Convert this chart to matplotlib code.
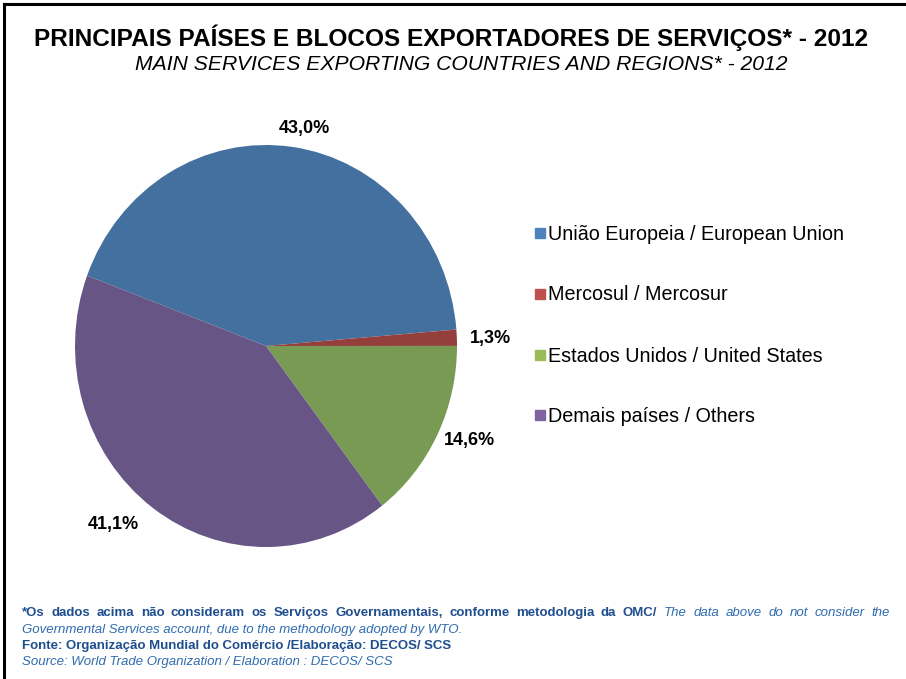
import matplotlib.pyplot as plt
from matplotlib.lines import Line2D
from matplotlib.patches import Rectangle

W, H = 906, 679

labels = ['União Europeia / European Union', 'Mercosul / Mercosur',
          'Estados Unidos / United States', 'Demais países / Others']
values = [43.0, 1.3, 14.6, 41.1]
pct_text = ['43,0%', '1,3%', '14,6%', '41,1%']
pie_colors = ['#44709F', '#953F3D', '#799A52', '#675586']
legend_colors = ['#4F81BD', '#C0504D', '#9BBB59', '#8064A2']

sans = 'Liberation Sans'


def px(x, y):
    # pixel coords from top-left -> figure fraction
    return x / W, 1 - y / H


fig = plt.figure(figsize=(W / 100, H / 100), dpi=100)

# frame lines (top and left only)
fig.add_artist(Line2D([4 / W, 1], [1 - 4 / H, 1 - 4 / H], color='black', lw=2.2))
fig.add_artist(Line2D([4 / W, 4 / W], [0, 1 - 4 / H], color='black', lw=2.2))

# titles
fig.text(*px(451, 38), 'PRINCIPAIS PAÍSES E BLOCOS EXPORTADORES DE SERVIÇOS* - 2012',
         ha='center', va='center', fontsize=17.6, fontweight='bold', family=sans)
fig.text(*px(461, 65), 'MAIN SERVICES EXPORTING COUNTRIES AND REGIONS* - 2012',
         ha='center', va='center', fontsize=15.2, fontstyle='italic', family=sans)

# pie (slightly taller than wide, as in the original)
cx, cy, rx, ry = 266, 346, 191, 201
ax = fig.add_axes([(cx - rx) / W, 1 - (cy + ry) / H, 2 * rx / W, 2 * ry / H])
ax.pie(values, colors=pie_colors, startangle=159.5, counterclock=False,
       wedgeprops=dict(linewidth=0))
ax.set_aspect('auto')
ax.set_xlim(-1, 1)
ax.set_ylim(-1, 1)
ax.axis('off')

label_pos = [(304, 128), (490, 339), (469, 441), (113, 524)]
for (x, y), t in zip(label_pos, pct_text):
    fig.text(*px(x, y), t, ha='center', va='center', fontsize=13,
             fontweight='bold', family=sans)

# legend
leg_y = [234, 295, 356, 416]
for yy, lab, col in zip(leg_y, labels, legend_colors):
    fig.add_artist(Rectangle(px(535, yy + 4), 10 / W, 10 / H, color=col,
                             transform=fig.transFigure))
    fig.text(*px(548, yy), lab, ha='left', va='center', fontsize=14.2, family=sans)

# footnotes
dark = '#1F4E8F'
light = '#2F6CB0'
fs = 9.5

# first line is justified between x=22 and x=890
line1 = [(w, 'bold', 'normal', dark) for w in
         '*Os dados acima não consideram os Serviços Governamentais, conforme metodologia da OMC/'.split()]
line1 += [(w, 'normal', 'italic', light) for w in 'The data above do not consider the'.split()]
texts = [fig.text(0, 1 - 613 / H, w, ha='left', va='center', fontsize=fs, fontweight=fw,
                  fontstyle=st, color=c, family=sans) for w, fw, st, c in line1]
r = fig.canvas.get_renderer()
widths = [t.get_window_extent(r).width for t in texts]
gap = (890 - 22 - sum(widths)) / (len(texts) - 1)
x = 22
for t, wd in zip(texts, widths):
    t.set_x(x / W)
    x += wd + gap

fig.text(*px(22, 630), 'Governmental Services account, due to the methodology adopted by WTO.',
         ha='left', va='center', fontsize=fs, fontstyle='italic', color=light, family=sans)
fig.text(*px(22, 646), 'Fonte: Organização Mundial do Comércio /Elaboração: DECOS/ SCS',
         ha='left', va='center', fontsize=fs, fontweight='bold', color=dark, family=sans)
fig.text(*px(22, 662), 'Source: World Trade Organization / Elaboration : DECOS/ SCS',
         ha='left', va='center', fontsize=fs, fontstyle='italic', color=light, family=sans)

fig.savefig('out.png', dpi=100)
